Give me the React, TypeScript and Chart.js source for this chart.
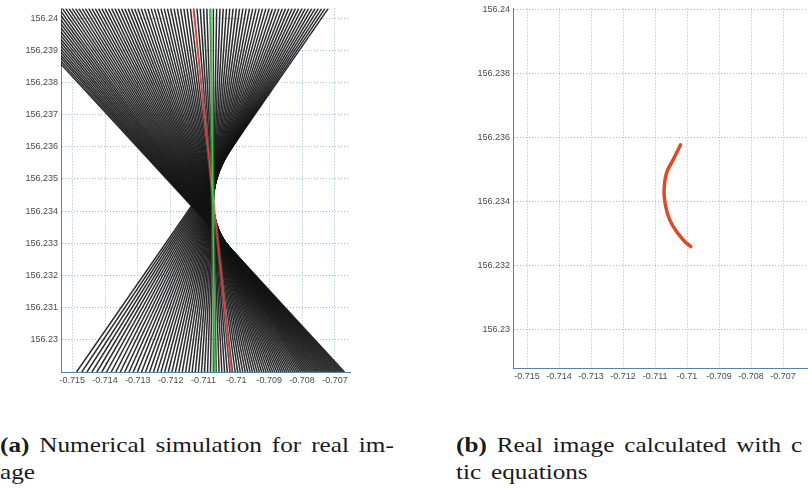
import React, { useEffect, useRef } from 'react';
import { Chart, registerables } from 'chart.js';

Chart.register(...registerables);

// ---------- data ----------
const xTicks = [-0.715, -0.714, -0.713, -0.712, -0.711, -0.71, -0.709, -0.708, -0.707];
const leftYTicks = [156.23, 156.231, 156.232, 156.233, 156.234, 156.235, 156.236, 156.237, 156.238, 156.239, 156.24];
const rightYTicks = [156.23, 156.232, 156.234, 156.236, 156.238, 156.24];

// simulated rays (a): each ray runs from (rayTopX[i], rayTopY) to (rayBottomX[i], rayBottomY)
const rayTopY = 156.2403;
const rayBottomY = 156.229;
const rayTopX = [
  -0.7169, -0.7168, -0.7167, -0.7166, -0.7165, -0.7164, -0.7163, -0.7162, -0.7161, -0.716,
  -0.7159, -0.7158, -0.7157, -0.7156, -0.7155, -0.7154, -0.7153, -0.7152, -0.7151, -0.715,
  -0.7149, -0.7148, -0.7147, -0.7146, -0.7145, -0.7144, -0.7143, -0.7142, -0.7141, -0.714,
  -0.7139, -0.7138, -0.7137, -0.7136, -0.7135, -0.7134, -0.7133, -0.7132, -0.7131, -0.713,
  -0.7129, -0.7128, -0.7127, -0.7126, -0.7125, -0.7124, -0.7123, -0.7122, -0.7121, -0.712,
  -0.7119, -0.7118, -0.7117, -0.7116, -0.7115, -0.7114, -0.7113, -0.7112, -0.7111, -0.711,
  -0.7109, -0.7108, -0.7107, -0.7106, -0.7105, -0.7104, -0.7103, -0.7102, -0.7101, -0.71,
  -0.7099, -0.7098, -0.7097, -0.7096, -0.7095, -0.7094, -0.7093, -0.7092, -0.7091, -0.709,
  -0.7089, -0.7088, -0.7087, -0.7086, -0.7085, -0.7084, -0.7083, -0.7082, -0.7081, -0.708,
  -0.7079, -0.7078, -0.7077, -0.7076, -0.7075, -0.7074, -0.7073, -0.7072,
];
const rayBottomX = [
  -0.706709, -0.706764, -0.706818, -0.706871, -0.706926, -0.70698, -0.707034, -0.707089, -0.707142, -0.707197,
  -0.707252, -0.707306, -0.707361, -0.707417, -0.707472, -0.707527, -0.707583, -0.707639, -0.707695, -0.707751,
  -0.707808, -0.707865, -0.707922, -0.707979, -0.708038, -0.708096, -0.708155, -0.708214, -0.708273, -0.708333,
  -0.708394, -0.708454, -0.708516, -0.708578, -0.70864, -0.708703, -0.708767, -0.708831, -0.708896, -0.708961,
  -0.709028, -0.709095, -0.709162, -0.70923, -0.709299, -0.709369, -0.70944, -0.709511, -0.709583, -0.709657,
  -0.709731, -0.709806, -0.709882, -0.709958, -0.710036, -0.710115, -0.710196, -0.710277, -0.710359, -0.710442,
  -0.710527, -0.710613, -0.7107, -0.710788, -0.710878, -0.710969, -0.711062, -0.711156, -0.711251, -0.711348,
  -0.711446, -0.711546, -0.711648, -0.711751, -0.711856, -0.711963, -0.712072, -0.712182, -0.712295, -0.712409,
  -0.712525, -0.712644, -0.712764, -0.712887, -0.713012, -0.713139, -0.713269, -0.7134, -0.713535, -0.713672,
  -0.713811, -0.713953, -0.714098, -0.714246, -0.714397, -0.71455, -0.714707, -0.714867,
];
const redRayX = [-0.71131, -0.71015];
const greenRayX = [-0.71078, -0.71066];

// caustic curve (b)
const causticX = [-0.710206, -0.710437, -0.710644, -0.710719, -0.710666, -0.710541, -0.710331, -0.710072, -0.709884];
const causticY = [156.235772, 156.235302, 156.234886, 156.234309, 156.23384, 156.233423, 156.233057, 156.232744, 156.232587];

// ---------- helpers ----------
const fmt = (v: number) => String(parseFloat(Number(v).toFixed(3)));

function scale(ticks: number[], min: number, max: number, axis: 'x' | 'y', size: number) {
  return {
    type: 'linear' as const,
    min,
    max,
    afterBuildTicks: (s: any) => {
      s.ticks = ticks.map((value) => ({ value }));
    },
    afterFit: (s: any) => {
      if (axis === 'x') s.height = size;
      else s.width = size;
    },
    grid: { color: 'rgba(125,170,210,0.8)', lineWidth: 1, drawTicks: false },
    border: { display: true, color: '#5a83a3', width: 1, dash: [1, 2] },
    ticks: {
      padding: 3,
      color: '#4a4a4a',
      autoSkip: false,
      maxRotation: 0,
      font: { size: 9, family: 'Liberation Sans, Arial, sans-serif' },
      callback: (v: any) => fmt(v),
    },
  };
}

function ChartBox({ config, left, top, width, height }: any) {
  const ref = useRef<HTMLCanvasElement>(null);
  useEffect(() => {
    const chart = new Chart(ref.current as HTMLCanvasElement, config);
    return () => chart.destroy();
  }, []);
  return (
    <div style={{ position: 'absolute', left, top, width, height }}>
      <canvas ref={ref} width={width} height={height} style={{ width, height, display: 'block' }} />
    </div>
  );
}

const seg = (xs: number[]) => [
  { x: xs[0], y: rayTopY },
  { x: xs[1], y: rayBottomY },
];

const leftConfig: any = {
  type: 'scatter',
  data: {
    datasets: [
      { data: seg(greenRayX), showLine: true, borderColor: '#3cc83c', borderWidth: 1.5, pointRadius: 0 },
      { data: seg(greenRayX), showLine: true, borderColor: 'rgba(150,215,150,0.3)', borderWidth: 4, pointRadius: 0 },
      { data: seg(redRayX), showLine: true, borderColor: '#e0453a', borderWidth: 1.2, pointRadius: 0 },
      { data: seg(redRayX), showLine: true, borderColor: 'rgba(240,150,150,0.3)', borderWidth: 3.5, pointRadius: 0 },
      ...rayTopX.map((tx, i) => ({
        data: seg([tx, rayBottomX[i]]),
        showLine: true,
        borderColor: 'rgba(20,20,20,0.9)',
        borderWidth: 1.5,
        pointRadius: 0,
      })),
    ],
  },
  options: {
    responsive: false,
    animation: false,
    events: [],
    layout: { padding: { top: 4, right: 10, left: 0, bottom: 0 } },
    plugins: { legend: { display: false }, tooltip: { enabled: false } },
    scales: {
      x: scale(xTicks, -0.71534, -0.70654, 'x', 18),
      y: scale(leftYTicks, 156.229, 156.2403, 'y', 61),
    },
  },
};

const rightConfig: any = {
  type: 'scatter',
  data: {
    datasets: [
      {
        data: causticX.map((x, i) => ({ x, y: causticY[i] })),
        showLine: true,
        borderColor: '#dc4a28',
        borderWidth: 3.5,
        borderCapStyle: 'round',
        tension: 0.4,
        pointRadius: 0,
      },
    ],
  },
  options: {
    responsive: false,
    animation: false,
    events: [],
    layout: { padding: { top: 8, right: 0, left: 0, bottom: 0 } },
    plugins: { legend: { display: false }, tooltip: { enabled: false } },
    scales: {
      x: scale(xTicks, -0.71544, -0.70597, 'x', 22),
      y: scale(rightYTicks, 156.22878, 156.24005, 'y', 73),
    },
  },
};

const capStyle: any = {
  position: 'absolute',
  fontFamily: '"Liberation Serif", "Times New Roman", serif',
  fontSize: 21,
  lineHeight: '21px',
  color: '#1a1a1a',
  whiteSpace: 'nowrap',
  transform: 'scaleX(1.2)',
  transformOrigin: 'left top',
  wordSpacing: '3px',
};

export default function App() {
  return (
    <div style={{ position: 'fixed', left: 0, top: 0, width: 808, height: 490, overflow: 'hidden', background: '#fff' }}>
      <ChartBox config={leftConfig} left={0} top={0} width={360} height={390} />
      <ChartBox config={rightConfig} left={440} top={0} width={376} height={390} />
      <div style={{ ...capStyle, left: 0, top: 435 }}>
        <b>(a)</b> Numerical simulation for real im-
      </div>
      <div style={{ ...capStyle, left: 0, top: 462 }}>age</div>
      <div style={{ ...capStyle, left: 456, top: 435 }}>
        <b>(b)</b> Real image calculated with c
      </div>
      <div style={{ ...capStyle, left: 456, top: 462 }}>tic equations</div>
    </div>
  );
}
